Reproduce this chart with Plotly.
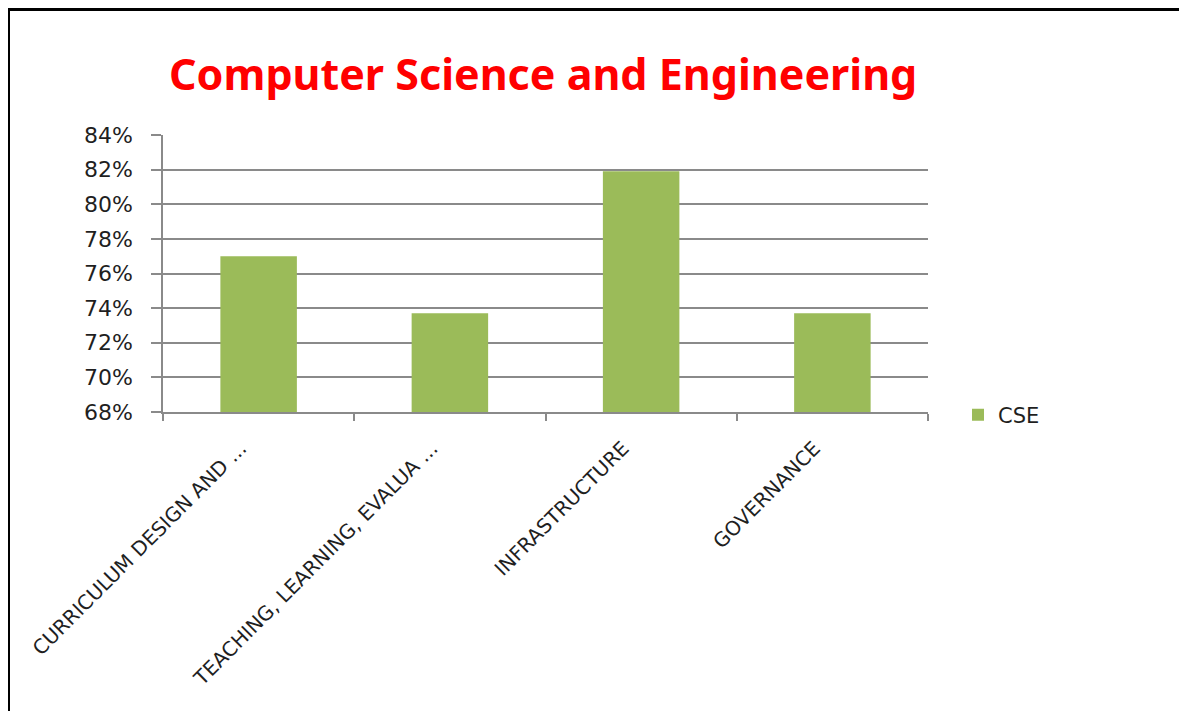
import plotly.graph_objects as go

categories = ["CURRICULUM DESIGN AND ...", "TEACHING, LEARNING, EVALUA ...", "INFRASTRUCTURE", "GOVERNANCE"]
cse_values = [77.0, 73.7, 81.9, 73.7]
series_name = "CSE"
title_text = "Computer Science and Engineering"

# page has an 8px body margin; figure sized so it fills the 1187x711 window
OFF = 8
W, H = 1187 - OFF, 711 - OFF
px = lambda x: (x - OFF) / W
py = lambda y: (H - (y - OFF)) / H

fig = go.Figure()
fig.add_trace(go.Bar(x=categories, y=cse_values, name=series_name,
                     marker=dict(color="#9BBB59", line=dict(width=0))))

fig.update_layout(
    width=W, height=H,
    margin=dict(l=0, r=0, t=0, b=0, autoexpand=False),
    paper_bgcolor="white", plot_bgcolor="white",
    bargap=0.6,
    showlegend=True,
    legend=dict(x=px(958), y=py(415), xanchor="left", yanchor="middle",
                font=dict(family="DejaVu Sans", size=21, color="#1F1F1F"),
                bgcolor="rgba(0,0,0,0)"),
    font=dict(family="DejaVu Sans", color="#1F1F1F"),
    xaxis=dict(domain=[px(163), px(928)], type="category", automargin=False,
               showgrid=False, showline=True, linecolor="#8A8A8A", linewidth=1.5,
               ticks="outside", tickson="boundaries", ticklen=7, tickcolor="#8A8A8A",
               tickwidth=1.5, tickangle=-45, ticklabelstandoff=15, ticklabelshift=-18,
               tickfont=dict(family="DejaVu Sans", size=20, color="#1F1F1F")),
    yaxis=dict(domain=[py(412), py(135)], range=[68, 84], dtick=2, ticksuffix="%",
               automargin=False,
               showgrid=True, gridcolor="#8A8A8A", gridwidth=1.5,
               showline=True, linecolor="#8A8A8A", linewidth=1.5,
               ticks="outside", ticklen=10, tickcolor="#8A8A8A", tickwidth=1.5,
               ticklabelstandoff=14, zeroline=False,
               tickfont=dict(family="DejaVu Sans", size=22, color="#1F1F1F")),
    annotations=[dict(text="<b>" + title_text + "</b>", x=px(543), y=py(74),
                      xref="paper", yref="paper", xanchor="center", yanchor="middle",
                      showarrow=False,
                      font=dict(family="Noto Sans", size=43, color="#FF0000"))],
    shapes=[
        dict(type="line", xref="paper", yref="paper", x0=px(8.5), x1=px(8.5), y0=0, y1=py(8),
             line=dict(color="black", width=3)),
        dict(type="line", xref="paper", yref="paper", x0=px(7), x1=1, y0=py(9.5), y1=py(9.5),
             line=dict(color="black", width=3)),
    ],
)

fig.write_html("out.html")
